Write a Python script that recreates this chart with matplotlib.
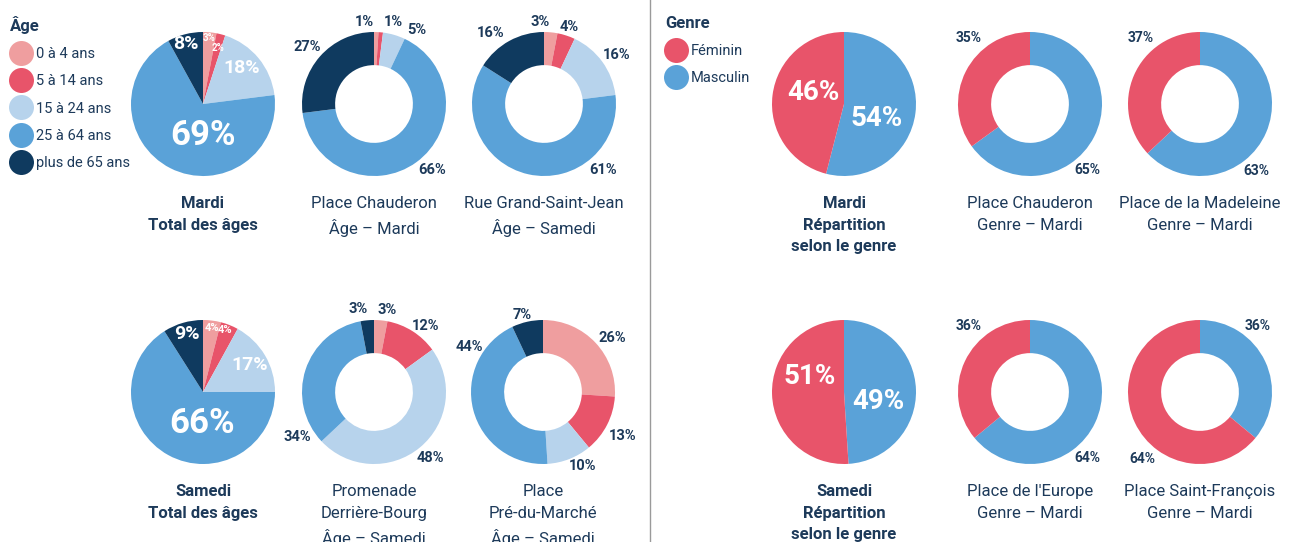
import matplotlib
matplotlib.use("Agg")
import matplotlib.pyplot as plt
from matplotlib.lines import Line2D
import numpy as np

plt.rcParams['font.family'] = ['Roboto', 'DejaVu Sans']

W, H = 1296, 542
NAVY = "#1d3a5a"

## DATA ##
age_groups = ["0 à 4 ans", "5 à 14 ans", "15 à 24 ans", "25 à 64 ans", "plus de 65 ans"]
age_colors = ["#ef9e9f", "#e8546a", "#b7d3ec", "#5aa2d8", "#0f3a5f"]

mardi_total = [3, 2, 18, 69, 8]
chauderon_age = [1, 1, 5, 66, 27]
grand_st_jean_age = [3, 4, 16, 61, 16]
samedi_total = [4, 4, 17, 66, 9]
derriere_bourg_age = [3, 12, 48, 34, 3]
pre_du_marche_age = [26, 13, 10, 44, 7]

genres = ["Féminin", "Masculin"]
genre_colors = ["#e8546a", "#5aa2d8"]

mardi_genre = [46, 54]
chauderon_genre = [35, 65]
madeleine_genre = [37, 63]
samedi_genre = [51, 49]
europe_genre = [36, 64]
st_francois_genre = [64, 36]

## LAYOUT (pixel centres, label angle/radius) ##
R = 72


def add_pie(cx, cy, values, colors, donut, label_pos, label_size, label_color,
            order=None):
    half = R * 1.5
    ax = fig.add_axes([(cx - half) / W, 1 - (cy + half) / H, 2 * half / W, 2 * half / H])
    idx = order if order is not None else list(range(len(values)))
    vals = [values[i] for i in idx]
    cols = [colors[i] for i in idx]
    if donut:
        wp = dict(width=0.46, linewidth=0)
    else:
        wp = dict(linewidth=0)
    ax.pie(vals, colors=cols, startangle=90, counterclock=False, radius=1,
           wedgeprops=wp)
    ax.set_xlim(-1.5, 1.5)
    ax.set_ylim(-1.5, 1.5)
    ax.set_aspect("equal")
    ax.axis("off")
    for i, v in enumerate(values):
        ang, r = label_pos[i]
        size = label_size[i] if isinstance(label_size, list) else label_size
        x = r * np.cos(np.radians(ang))
        y = r * np.sin(np.radians(ang))
        ax.text(x, y, f"{v}%", ha="center", va="center", fontsize=size,
                fontweight="bold", color=label_color)
    return ax


def add_title(cx, ytop, text, bold):
    fig.text(cx / W, 1 - ytop / H, text, ha="center", va="top", fontsize=12,
             fontweight="bold" if bold else "normal", color=NAVY, linespacing=1.55)


def add_legend(handles_colors, names, title, x0):
    handles = [Line2D([], [], marker="o", linestyle="none", markersize=18,
                      markerfacecolor=c, markeredgewidth=0) for c in handles_colors]
    leg = fig.legend(handles, names, title=title, loc="upper left",
                     bbox_to_anchor=(x0 / W, 1 - 6 / H), frameon=False, fontsize=10.5,
                     labelspacing=0.9, handletextpad=0.25, handlelength=1.5,
                     alignment="left", borderaxespad=0.3)
    leg.get_title().set_fontweight("bold")
    leg.get_title().set_fontsize(12)
    leg.get_title().set_color(NAVY)
    for t in leg.get_texts():
        t.set_color(NAVY)
    return leg


fig = plt.figure(figsize=(W / 100, H / 100), dpi=100)

# age side
add_pie(203, 104, mardi_total, age_colors, False,
        [(85, .92), (75, .80), (43, .73), (-90, .44), (106, .87)],
        [7, 7, 14, 25, 14], "white")
add_pie(374, 104, chauderon_age, age_colors, True,
        [(97, 1.15), (77, 1.17), (60, 1.19), (-48.7, 1.22), (139.6, 1.22)],
        10.5, NAVY)
add_pie(544, 104, grand_st_jean_age, age_colors, True,
        [(93, 1.14), (72, 1.12), (34, 1.22), (-48, 1.23), (127, 1.23)],
        10.5, NAVY)
add_pie(203, 392, samedi_total, age_colors, False,
        [(82, .9), (70, .91), (30, .75), (-92, .44), (105, .84)],
        [8, 8, 14, 25, 14], "white")
add_pie(374, 392, derriere_bourg_age, age_colors, True,
        [(81, 1.16), (52, 1.16), (-49.6, 1.2), (-149.5, 1.24), (100.8, 1.17)],
        10.5, NAVY)
add_pie(543, 392, pre_du_marche_age, age_colors, True,
        [(38, 1.22), (-29, 1.26), (-62, 1.16), (148.5, 1.2), (105, 1.1)],
        10.5, NAVY)

# genre side (masculin drawn first, clockwise from top)
gorder = [1, 0]
add_pie(844, 104, mardi_genre, genre_colors, False,
        [(160, .45), (-24, .5)], 20, "white", gorder)
add_pie(1030, 104, chauderon_genre, genre_colors, True,
        [(133, 1.26), (-49, 1.21)], 10, NAVY, gorder)
add_pie(1200, 104, madeleine_genre, genre_colors, True,
        [(132, 1.24), (-50, 1.21)], 10, NAVY, gorder)
add_pie(844, 392, samedi_genre, genre_colors, False,
        [(156, .52), (-16, .49)], 20, "white", gorder)
add_pie(1030, 392, europe_genre, genre_colors, True,
        [(133, 1.26), (-49, 1.21)], 10, NAVY, gorder)
add_pie(1200, 392, st_francois_genre, genre_colors, True,
        [(-131, 1.23), (48.7, 1.22)], 10, NAVY, gorder)

# titles
add_title(203, 196, "Mardi\nTotal des âges", True)
add_title(374, 196, "Place Chauderon\nÂge – Mardi", False)
add_title(544, 196, "Rue Grand-Saint-Jean\nÂge – Samedi", False)
add_title(203, 484, "Samedi\nTotal des âges", True)
add_title(374, 484, "Promenade\nDerrière-Bourg\nÂge – Samedi", False)
add_title(543, 484, "Place\nPré-du-Marché\nÂge – Samedi", False)
add_title(844, 196, "Mardi\nRépartition\nselon le genre", True)
add_title(1030, 196, "Place Chauderon\nGenre – Mardi", False)
add_title(1200, 196, "Place de la Madeleine\nGenre – Mardi", False)
add_title(844, 484, "Samedi\nRépartition\nselon le genre", True)
add_title(1030, 484, "Place de l'Europe\nGenre – Mardi", False)
add_title(1200, 484, "Place Saint-François\nGenre – Mardi", False)

# legends
add_legend(age_colors, age_groups, "Âge", 0)
add_legend(genre_colors, genres, "Genre", 655)

# divider
fig.add_artist(Line2D([650 / W, 650 / W], [0, 1], transform=fig.transFigure,
                      color="#9a9a9a", linewidth=1))

fig.savefig("out.png", dpi=100)
